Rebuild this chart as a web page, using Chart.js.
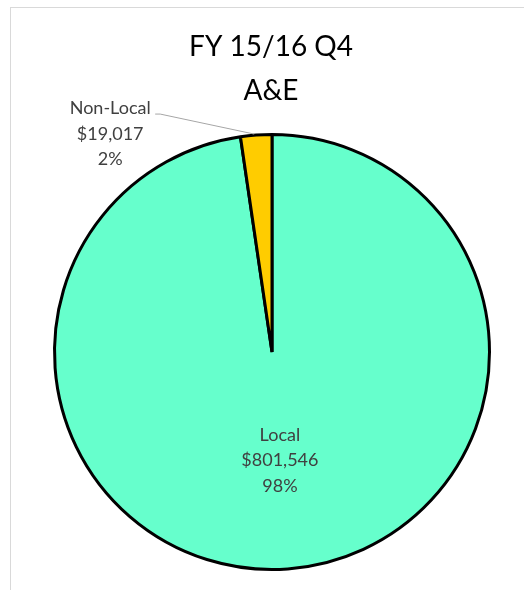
<!DOCTYPE html>
<html>
<head>
<meta charset="utf-8">
<script src="https://cdn.jsdelivr.net/npm/chart.js@4.4.1/dist/chart.umd.min.js"></script>
<style>
  html, body { margin: 0; padding: 0; background: #fff; }
  #wrap { position: relative; width: 524px; height: 590px; overflow: hidden; }
  #frame { position: absolute; left: 10px; top: 7px; width: 600px; height: 700px;
    border-left: 1px solid #d9d9d9; border-top: 1px solid #d9d9d9; }
  canvas { position: absolute; left: 0; top: 0; }
</style>
</head>
<body>
<div id="wrap">
  <div id="frame"></div>
  <canvas id="pie" width="524" height="590"></canvas>
</div>
<script>
/* FY 15/16 Q4 A&E — local vs non-local spend */

const TITLE_LINES = ['FY 15/16 Q4', 'A&E'];
const CATEGORIES = ['Local', 'Non-Local'];
const AMOUNTS = [801546, 19017];
const PERCENT_LABELS = ['98%', '2%'];
const SLICE_COLORS = ['#66FFCC', '#FFCC00'];

const TEXT_COLOR = '#404040';
const LABEL_FONT = '18px Lato, "Open Sans", sans-serif';

function money(v) {
  return '$' + v.toLocaleString('en-US');
}

const titlePlugin = {
  id: 'titleText',
  afterDraw: function(chart) {
    var ctx = chart.ctx;
    ctx.save();
    ctx.fillStyle = '#000';
    ctx.font = '28px Lato, "Open Sans", sans-serif';
    ctx.textAlign = 'center';
    ctx.textBaseline = 'alphabetic';
    ctx.fillText(TITLE_LINES[0], 271, 56);
    ctx.fillText(TITLE_LINES[1], 271, 100);
    ctx.restore();
  }
};

const sliceLabels = {
  id: 'sliceLabels',
  afterDatasetsDraw: function(chart) {
    var ctx = chart.ctx;
    var arcs = chart.getDatasetMeta(0).data;
    ctx.save();
    ctx.font = LABEL_FONT;
    ctx.fillStyle = TEXT_COLOR;
    ctx.textAlign = 'center';
    ctx.textBaseline = 'middle';
    arcs.forEach(function(arc, i) {
      var lines = [CATEGORIES[i], money(AMOUNTS[i]), PERCENT_LABELS[i]];
      var cx, cy;
      if (i === 0) {
        var p = arc.tooltipPosition();
        cx = p.x; cy = p.y;
      } else {
        // outside label with leader line
        var mid = (arc.startAngle + arc.endAngle) / 2;
        var ox = arc.x + Math.cos(mid) * arc.outerRadius;
        var oy = arc.y + Math.sin(mid) * arc.outerRadius;
        cx = ox - 146;
        cy = oy - 1;
        var lx = cx + 45, ly = oy - 21;
        ctx.strokeStyle = '#a6a6a6';
        ctx.lineWidth = 1;
        ctx.beginPath();
        ctx.moveTo(lx, ly);
        ctx.lineTo(lx + 5, ly);
        ctx.lineTo(ox - 2, oy - 1);
        ctx.stroke();
      }
      lines.forEach(function(t, k) {
        ctx.fillText(t, cx, cy + (k - 1) * 25.5);
      });
    });
    ctx.restore();
  }
};

new Chart(document.getElementById('pie').getContext('2d'), {
  type: 'pie',
  data: {
    labels: CATEGORIES,
    datasets: [{
      data: AMOUNTS,
      backgroundColor: SLICE_COLORS,
      borderColor: '#000',
      borderWidth: 3,
      borderAlign: 'center'
    }]
  },
  options: {
    responsive: false,
    animation: false,
    layout: { padding: { top: 133, bottom: 19, left: 53, right: 33 } },
    plugins: {
      legend: { display: false },
      tooltip: { enabled: false },
      title: { display: false }
    }
  },
  plugins: [titlePlugin, sliceLabels]
});
</script>
</body>
</html>
